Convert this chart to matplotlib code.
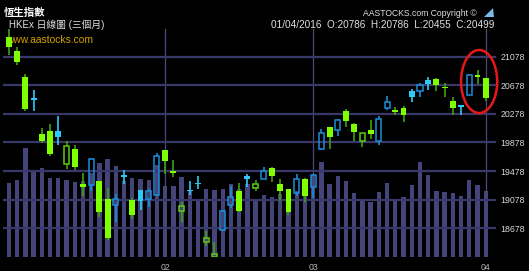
import numpy as np
import pandas as pd
import matplotlib
matplotlib.use("Agg")
import matplotlib.pyplot as plt
from matplotlib.patches import Ellipse, Polygon

# trading days shown (HK holidays removed)
holidays = ["2016-02-08", "2016-02-09", "2016-02-10", "2016-03-25", "2016-03-28"]
dates = pd.bdate_range("2016-01-05", "2016-04-01")
dates = dates[~dates.isin(pd.to_datetime(holidays))]

prev_close = 21300  # close before the first candle

opens = [21349, 21162, 20790, 20504, 20001, 20039, 20039, 19577, 19791, 19297,
         19287, 19335, 19087, 19003, 19405, 19078, 19213, 19091, 19139, 19777,
         19483, 18915, 19198, 19300, 18481, 18280, 18658, 19007, 19203, 19413,
         19237, 19371, 19517, 19297, 19223, 19175, 19371, 19259, 19791, 20095,
         20057, 20323, 20136, 19894, 20057, 19903, 20360, 20312, 20356, 20594,
         20602, 20756, 20770, 20640, 20458, 20398, 20546, 20818, 20786]
highs = [21470, 21214, 20840, 20612, 20081, 20136, 20244, 19903, 19838, 19451,
         19661, 19335, 19241, 19157, 19493, 19101, 19213, 19231, 19727, 19777,
         19633, 19045, 19343, 19405, 18635, 18486, 18938, 19273, 19311, 19437,
         19349, 19531, 19531, 19371, 19223, 19441, 19381, 19433, 20071, 20095,
         20211, 20346, 20150, 20006, 20197, 20248, 20524, 20374, 20384, 20626,
         20710, 20790, 20780, 20706, 20514, 20398, 20836, 20888, 20786]
lows = [21106, 20958, 20323, 20323, 19866, 19693, 19847, 19511, 19497, 19125,
        19203, 18831, 18514, 18761, 19297, 18803, 18933, 18980, 19125, 19441,
        19395, 18761, 19147, 19227, 18434, 18270, 18658, 18961, 18905, 19259,
        19195, 19371, 19325, 19055, 18868, 19125, 19045, 19101, 19773, 19791,
        19973, 20099, 19903, 19815, 19927, 19847, 20328, 20258, 20169, 20444,
        20518, 20612, 20594, 20514, 20267, 20258, 20546, 20696, 20455]
closes = [21209, 21004, 20346, 20472, 19903, 19717, 19950, 19829, 19531, 19251,
          19643, 18901, 18542, 19087, 19400, 18863, 19055, 19199, 19689, 19615,
          19451, 18994, 19195, 19297, 18542, 18318, 18915, 19115, 18924, 19371,
          19297, 19475, 19413, 19199, 18901, 19371, 19125, 19423, 20015, 19950,
          20188, 20174, 20020, 20006, 19997, 20206, 20440, 20309, 20267, 20518,
          20678, 20696, 20686, 20636, 20356, 20374, 20818, 20794, 20499]
volumes = [1472, 1540, 2186, 1746, 1786, 1572, 1572, 1546, 1506, 1526,
           1686, 1880, 1966, 1826, 1520, 1572, 1560, 1546, 1846, 1426,
           1426, 1606, 1320, 1132, 1360, 1346, 1360, 1466, 1360, 1452,
           1132, 1232, 1200, 1252, 1340, 1320, 1420, 1640, 1896, 1460,
           1626, 1526, 1280, 1160, 1106, 1300, 1476, 1160, 1200, 1446,
           1900, 1640, 1326, 1300, 1280, 1230, 1540, 1440, 1326]

price_ticks = [18678, 19078, 19478, 19878, 20278, 20678, 21078]

BG = "#000046"
GREEN = "#80ff00"
GREEN_HOLLOW = "#5ccc10"
GREEN_WICK = "#3f9f10"
CYAN = "#30c8f8"
BLUE = "#1c8cd8"

W, H = 529, 271
fig = plt.figure(figsize=(W / 100, H / 100), dpi=100, facecolor="black")
rect = [3 / W, (H - 257) / H, 493 / W, 228 / H]

ax_vol = fig.add_axes(rect, zorder=1)
ax = fig.add_axes(rect, zorder=2)
ax.patch.set_alpha(0)
ax_vol.set_facecolor(BG)

x = np.arange(len(closes))
ax_vol.bar(x, volumes, width=0.53, color="#45447a", linewidth=0)
ax_vol.set_ylim(0, 4560)
ax_vol.set_xlim(-0.73, 59.25)
ax_vol.axis("off")

o = np.array(opens); c = np.array(closes); hi = np.array(highs); lo = np.array(lows)
pc = np.concatenate([[prev_close], c[:-1]])
up = c >= pc
hollow = c > o
top = np.maximum(o, c)
bot = np.minimum(o, c)
bh = np.maximum(top - bot, 18)

for i in x:
    if up[i]:
        col = BLUE if hollow[i] else CYAN
        wcol = col
    else:
        col = GREEN_HOLLOW if hollow[i] else GREEN
        wcol = GREEN_WICK
    ax.vlines(i, top[i], hi[i], color=wcol, lw=1.2, zorder=3)
    ax.vlines(i, lo[i], bot[i], color=wcol, lw=1.2, zorder=3)
    if hollow[i]:
        ax.bar(i, bh[i], bottom=bot[i], width=0.62, facecolor="none",
               edgecolor=col, lw=1.1, zorder=4)
    else:
        ax.bar(i, bh[i], bottom=bot[i], width=0.72, color=col, lw=0, zorder=4)

# month separators
month_idx = [i for i in range(1, len(dates)) if dates[i].month != dates[i - 1].month]
ax.set_xticks(month_idx)
ax.set_xticklabels([dates[i].strftime("%m") for i in month_idx])
ax.set_xlim(-0.73, 59.25)
ax.set_ylim(18276, 21466)
ax.set_yticks(price_ticks)
ax.yaxis.tick_right()
ax.tick_params(axis="both", length=0, colors="#d8d8d8", labelsize=6.3, pad=3)
ax.tick_params(axis="x", colors="#b8b8b8", pad=4)
for lab in ax.get_xticklabels() + ax.get_yticklabels():
    lab.set_family("Liberation Sans")
ax.grid(axis="y", color="#38386a", lw=1.6)
ax.grid(axis="x", color="#4a4a7a", lw=0.9)
ax.set_axisbelow(True)
for s in ax.spines.values():
    s.set_visible(False)

# highlight of the last three sessions
ax.add_patch(Ellipse((57.2, 20731), 4.4, 882, fill=False, edgecolor="#e81818",
                     lw=1.8, zorder=6, clip_on=False))

ax.text(0.006, 0.975, "www.aastocks.com", transform=ax.transAxes, color="#d0a000",
        fontsize=7.4, va="top", ha="left", family="Liberation Sans")

fig.text(4 / W, 1 - 16 / H, "恆生指數", color="white", fontsize=7.5, fontweight="bold",
         family=["Noto Sans CJK TC", "DejaVu Sans"])
fig.text(9 / W, 1 - 28 / H, "HKEx 日線圖 (三個月)", color="#e0e0e0", fontsize=7.0,
         family=["Liberation Sans", "Noto Sans CJK TC"])
fig.text(477 / W, 1 - 15.5 / H, "AASTOCKS.com Copyright ©", color="#e0e0e0", fontsize=6.2,
         ha="right", family="Liberation Sans")
fig.text(494 / W, 1 - 27.5 / H,
         f"{dates[-1].strftime('%d/%m/%Y')}  O:{opens[-1]}  H:{highs[-1]}  L:{lows[-1]}  C:{closes[-1]}",
         color="#e0e0e0", fontsize=7.2, ha="right", family="Liberation Sans")
fig.patches.append(Polygon([[484 / W, 1 - 17 / H], [493 / W, 1 - 8 / H], [494 / W, 1 - 17 / H]],
                           closed=True, transform=fig.transFigure, facecolor="#7ab8e8",
                           edgecolor="none"))

fig.savefig("out.png", dpi=100, facecolor="black")
